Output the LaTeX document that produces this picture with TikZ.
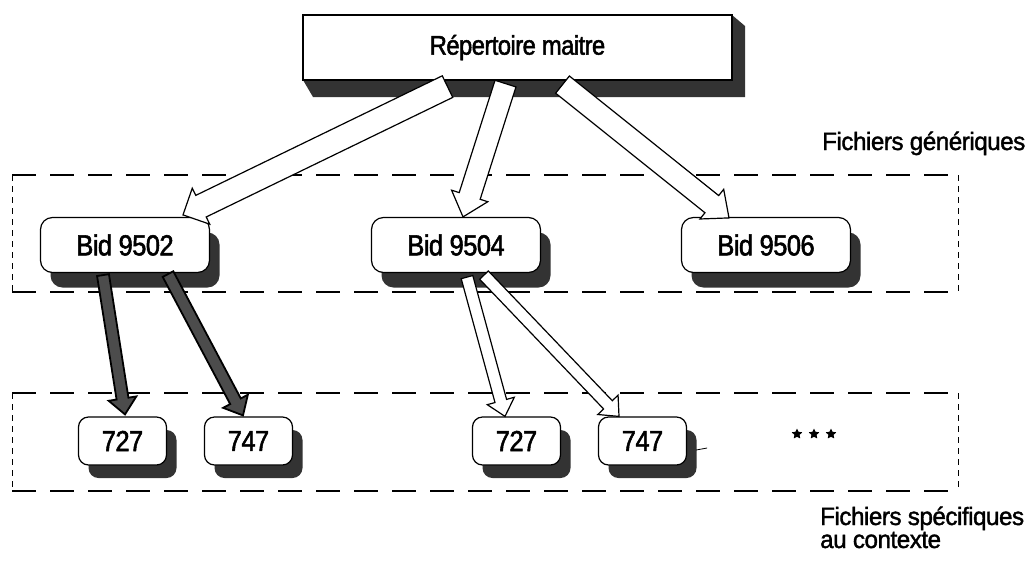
\documentclass[tikz,border=0pt]{standalone}
\usepackage{fontspec}
\setmainfont{Liberation Sans}
\newfontfamily\boxfont{Liberation Sans}[FakeStretch=0.88,FakeBold=1.8,LetterSpace=-2]
\newfontfamily\lblfont{Liberation Sans}[FakeStretch=0.97,FakeBold=1.5,LetterSpace=-2]
\usetikzlibrary{calc,shadows,shapes.geometric}

\newcommand{\blockarrow}[6]{%
  \coordinate (baH) at ($(#3)!#6!(#2)$);
  \filldraw[#1] ($(#2)!#4!90:(#3)$) -- ($(baH)!#4!-90:(#2)$) -- ($(baH)!#5!-90:(#2)$) -- (#3)
     -- ($(baH)!#5!90:(#2)$) -- ($(baH)!#4!90:(#2)$) -- ($(#2)!#4!-90:(#3)$) -- cycle;}

\tikzset{
  region/.style={line width=1.3pt, dash pattern=on 24pt off 14pt},
  regionside/.style={line width=0.5pt, dash pattern=on 6pt off 5pt},
  shade/.style={fill=black!80},
  masterbox/.style={draw, line width=1.2pt, fill=white, minimum width=429pt, minimum height=65pt,
     inner sep=0pt, font=\boxfont\fontsize{27}{30}\selectfont},
  bidbox/.style={draw, line width=1.2pt, fill=white, rounded corners=12pt, minimum width=169pt,
     minimum height=55pt, inner sep=0pt, font=\boxfont\fontsize{29}{32}\selectfont,
     drop shadow={shadow xshift=10pt, shadow yshift=-15pt, fill=black!80, opacity=1}},
  numbox/.style={draw, line width=1.2pt, fill=white, rounded corners=10pt, minimum width=88pt,
     minimum height=48pt, inner sep=0pt, font=\boxfont\fontsize{29}{32}\selectfont,
     drop shadow={shadow xshift=10pt, shadow yshift=-13pt, fill=black!80, opacity=1}},
  whitearrow/.style={draw=black, line width=1.2pt, fill=white, line join=miter},
  darkarrow/.style={draw=black, line width=1.8pt, fill=black!70, line join=miter},
  lbl/.style={inner sep=0pt, anchor=base west, font=\lblfont\fontsize{25}{28}\selectfont},
  dot/.style={star, star points=5, star point ratio=2, fill=black, minimum size=11pt, inner sep=0pt}
}

\begin{document}
\begin{tikzpicture}[x=1pt,y=-1pt]
\useasboundingbox (0,0) rectangle (1029,566);

% dashed regions
\draw[region] (12,175) -- (958,175);
\draw[region] (12,292) -- (958,292);
\draw[regionside] (12,175) -- (12,292);
\draw[regionside] (958,175) -- (958,292);
\draw[region] (12,393) -- (958,393);
\draw[region] (12,491) -- (958,491);
\draw[regionside] (12,393) -- (12,491);
\draw[regionside] (958,393) -- (958,491);

% master box with its slab shadow
\fill[shade] (732,15) -- (745,26) -- (745,97) -- (313,97) -- (303,80) -- (732,80) -- cycle;
\node[masterbox] (m) at (517.5,47.5) {Répertoire maitre};

% generic files
\node[bidbox] (b1) at (125,245) {Bid 9502};
\node[bidbox] (b2) at (456,245) {Bid 9504};
\node[bidbox] (b3) at (766,245) {Bid 9506};

% specific files
\node[numbox] (n1) at (122.5,441) {727};
\node[numbox] (n2) at (248.5,441) {747};
\node[numbox] (n3) at (516.5,441) {727};
\node[numbox] (n4) at (642.5,441) {747};
\coordinate (st) at ([xshift=9pt,yshift=-9pt]n4.east);
\draw[line width=0.8pt] (st) -- ++(11,-2);

\node[dot] (s1) at (797,434) {};
\node[dot] (s2) at (814,434) {};
\node[dot] (s3) at (831,434) {};

% arrows from master
\coordinate (a1s) at ([xshift=-70pt,yshift=-6pt]m.south);
\coordinate (a1e) at ([xshift=58pt,yshift=2pt]b1.north);
\coordinate (a2s) at ([xshift=-12pt,yshift=-3pt]m.south);
\coordinate (a2e) at ([xshift=7pt]b2.north);
\coordinate (a3s) at ([xshift=45pt,yshift=-4pt]m.south);
\coordinate (a3e) at ([xshift=-37pt,yshift=-1pt]b3.north);
\blockarrow{whitearrow}{a1s}{a1e}{12pt}{20pt}{20pt}
\blockarrow{whitearrow}{a2s}{a2e}{11pt}{19pt}{22pt}
\blockarrow{whitearrow}{a3s}{a3e}{11pt}{19pt}{22pt}

% arrows to specific files
\coordinate (a4s) at ([xshift=-22pt,yshift=-2pt]b1.south);
\coordinate (a4e) at ([xshift=2.5pt,yshift=2pt]n1.north);
\coordinate (a5s) at ([xshift=43pt,yshift=-1pt]b1.south);
\coordinate (a5e) at ([xshift=-5.5pt,yshift=1pt]n2.north);
\coordinate (a6s) at ([xshift=11pt,yshift=-4pt]b2.south);
\coordinate (a6e) at ([xshift=-11.5pt]n3.north);
\coordinate (a7s) at ([xshift=28pt,yshift=-2pt]b2.south);
\coordinate (a7e) at ([xshift=-23.5pt]n4.north);
\blockarrow{darkarrow}{a4s}{a4e}{6pt}{14pt}{16pt}
\blockarrow{darkarrow}{a5s}{a5e}{6pt}{14pt}{16pt}
\blockarrow{whitearrow}{a6s}{a6e}{6pt}{14pt}{16pt}
\blockarrow{whitearrow}{a7s}{a7e}{6pt}{14pt}{16pt}

% labels
\node[lbl] (lg) at (822,150) {Fichiers génériques};
\node[lbl] (ls1) at (820,525) {Fichiers spécifiques};
\node[lbl] (ls2) at (820,548) {au contexte};
\end{tikzpicture}
\end{document}
